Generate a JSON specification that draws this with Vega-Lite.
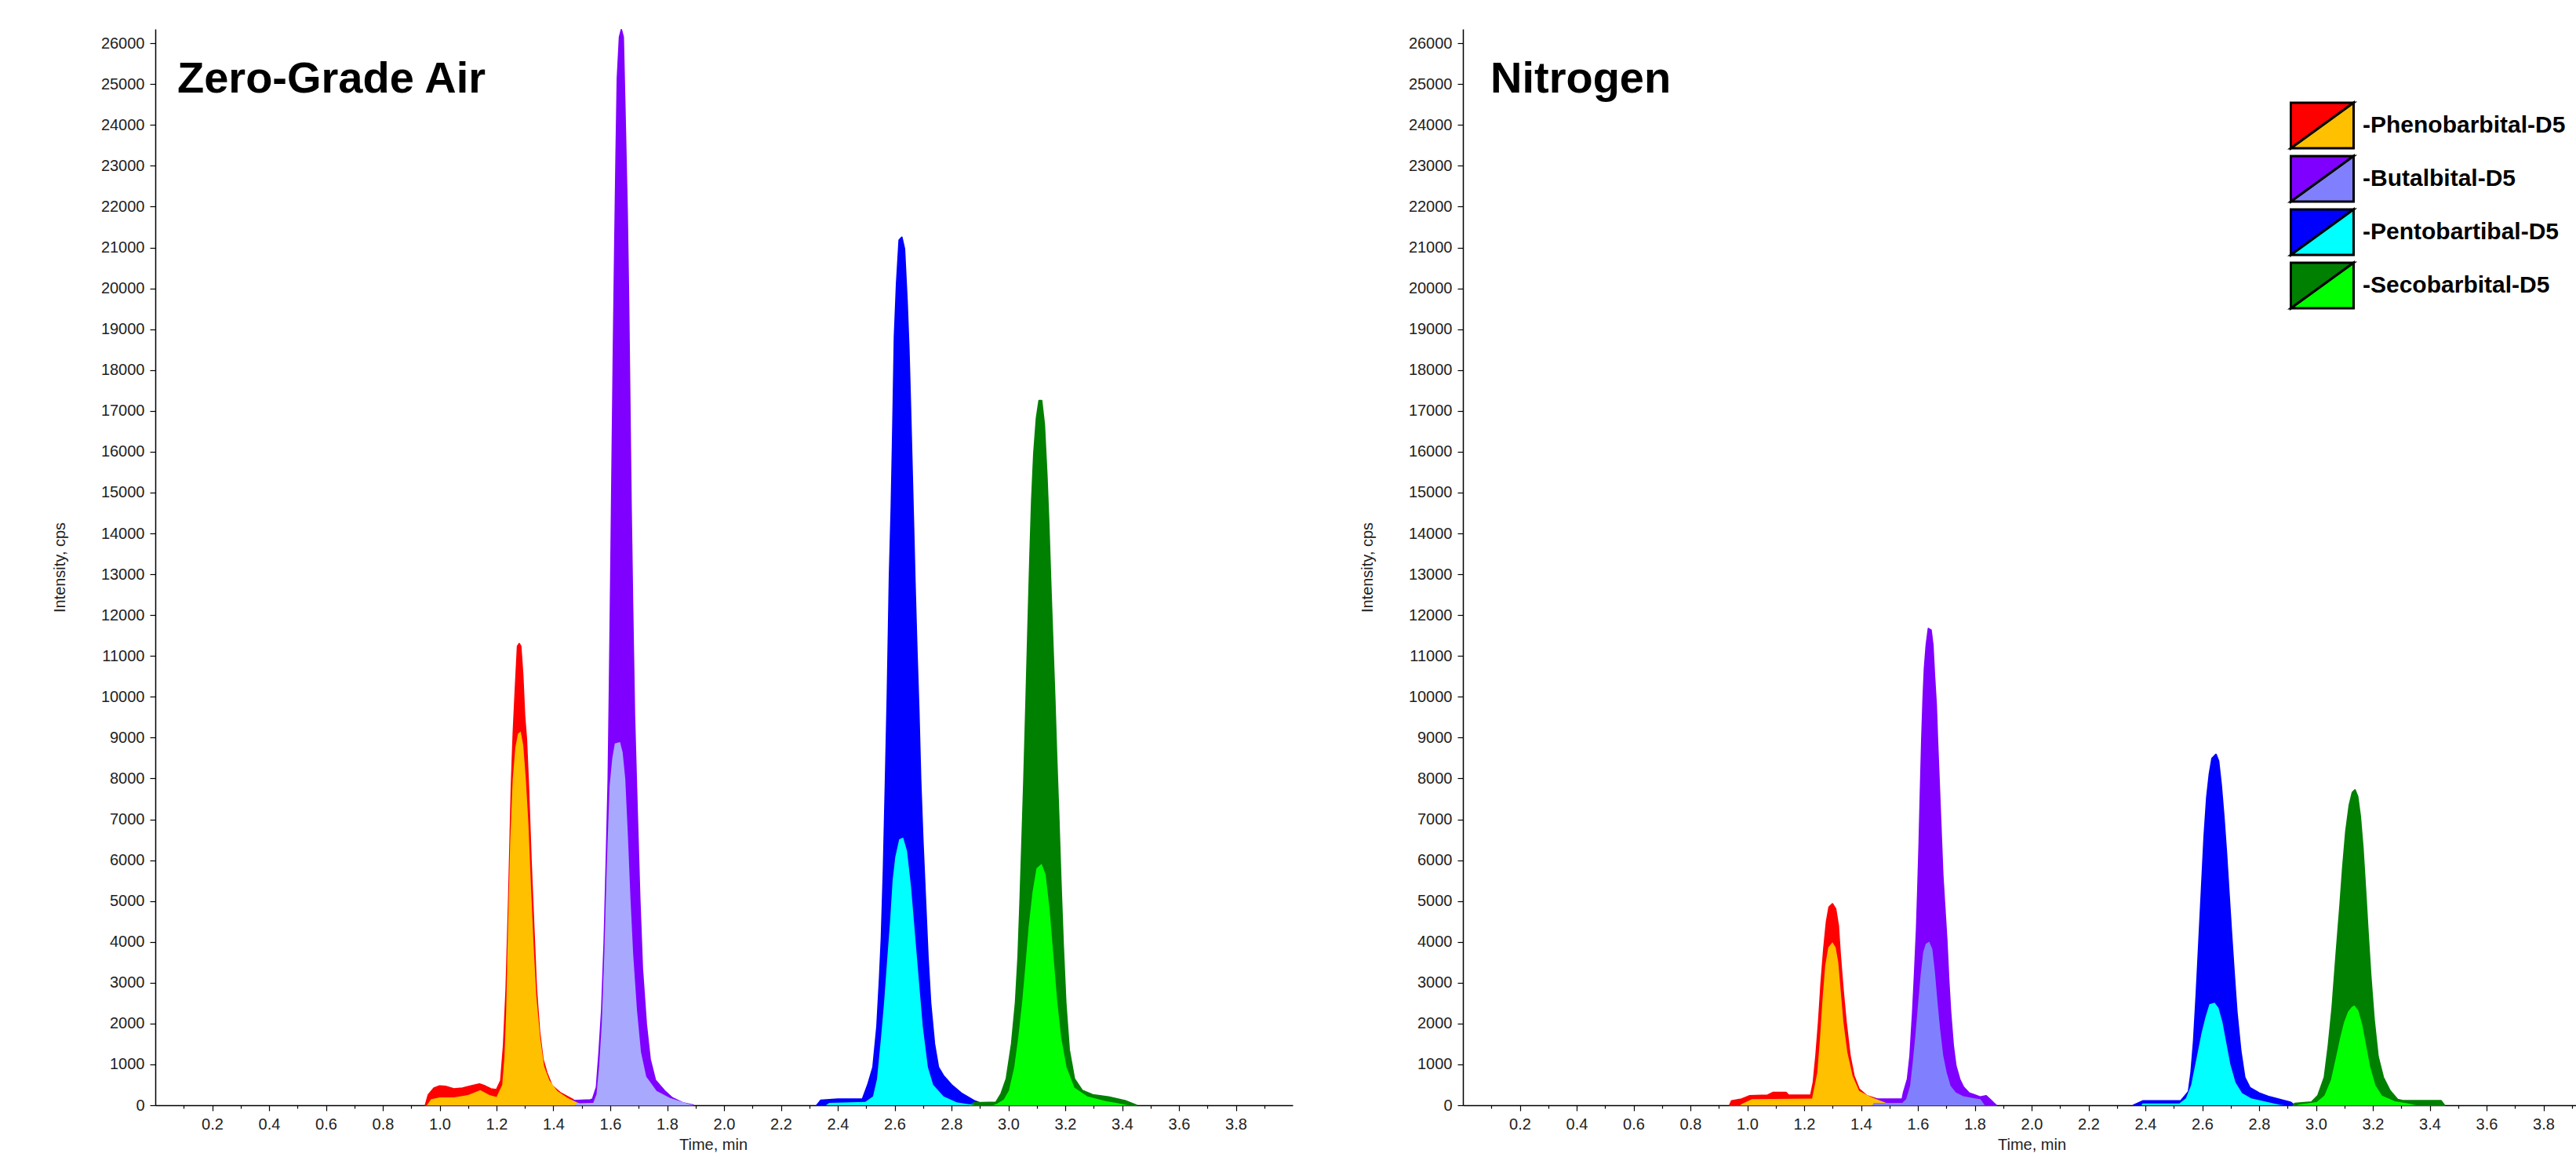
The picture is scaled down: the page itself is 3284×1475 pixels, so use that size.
{
  "$schema": "https://vega.github.io/schema/vega-lite/v6.json",
  "background": "white",
  "padding": {"left": 66, "top": 37, "right": 0, "bottom": 0},
  "config": {
    "view": {"stroke": null},
    "axis": {
      "grid": false,
      "domainColor": "black",
      "domainWidth": 1.5,
      "tickColor": "black",
      "tickWidth": 1.2,
      "labelFont": "Liberation Sans",
      "labelFontSize": 20,
      "labelColor": "#222222",
      "labelPadding": 7,
      "labelOverlap": false,
      "titleFont": "Liberation Sans",
      "titleFontSize": 20,
      "titleFontWeight": "normal",
      "titleColor": "#222222"
    },
    "title": {"font": "Liberation Sans", "fontSize": 56, "fontWeight": "bold", "color": "black"}
  },
  "datasets": {
    "airQuant": [
      {"s":"Phenobarbital-D5","t":0.95,"v":0},{"s":"Phenobarbital-D5","t":0.96,"v":250},{"s":"Phenobarbital-D5","t":0.98,"v":420},{"s":"Phenobarbital-D5","t":1.0,"v":470},{"s":"Phenobarbital-D5","t":1.02,"v":460},{"s":"Phenobarbital-D5","t":1.05,"v":400},{"s":"Phenobarbital-D5","t":1.08,"v":420},{"s":"Phenobarbital-D5","t":1.11,"v":470},{"s":"Phenobarbital-D5","t":1.14,"v":520},{"s":"Phenobarbital-D5","t":1.16,"v":470},{"s":"Phenobarbital-D5","t":1.18,"v":400},{"s":"Phenobarbital-D5","t":1.2,"v":380},{"s":"Phenobarbital-D5","t":1.215,"v":600},{"s":"Phenobarbital-D5","t":1.225,"v":1470},{"s":"Phenobarbital-D5","t":1.234,"v":2840},{"s":"Phenobarbital-D5","t":1.243,"v":5070},{"s":"Phenobarbital-D5","t":1.2525,"v":7810},{"s":"Phenobarbital-D5","t":1.259,"v":9100},{"s":"Phenobarbital-D5","t":1.266,"v":10130},{"s":"Phenobarbital-D5","t":1.274,"v":11240},{"s":"Phenobarbital-D5","t":1.28,"v":11300},{"s":"Phenobarbital-D5","t":1.285,"v":11240},{"s":"Phenobarbital-D5","t":1.292,"v":10540},{"s":"Phenobarbital-D5","t":1.2985,"v":9530},{"s":"Phenobarbital-D5","t":1.305,"v":8960},{"s":"Phenobarbital-D5","t":1.312,"v":7810},{"s":"Phenobarbital-D5","t":1.3215,"v":5930},{"s":"Phenobarbital-D5","t":1.3307,"v":4380},{"s":"Phenobarbital-D5","t":1.34,"v":2840},{"s":"Phenobarbital-D5","t":1.351,"v":1810},{"s":"Phenobarbital-D5","t":1.363,"v":1130},{"s":"Phenobarbital-D5","t":1.377,"v":790},{"s":"Phenobarbital-D5","t":1.395,"v":480},{"s":"Phenobarbital-D5","t":1.423,"v":310},{"s":"Phenobarbital-D5","t":1.469,"v":135},{"s":"Phenobarbital-D5","t":1.496,"v":0},
      {"s":"Butalbital-D5","t":1.46,"v":0},{"s":"Butalbital-D5","t":1.465,"v":110},{"s":"Butalbital-D5","t":1.5,"v":120},{"s":"Butalbital-D5","t":1.53,"v":130},{"s":"Butalbital-D5","t":1.5378,"v":150},{"s":"Butalbital-D5","t":1.5516,"v":440},{"s":"Butalbital-D5","t":1.5608,"v":1300},{"s":"Butalbital-D5","t":1.57,"v":2325},{"s":"Butalbital-D5","t":1.579,"v":4040},{"s":"Butalbital-D5","t":1.5866,"v":6100},{"s":"Butalbital-D5","t":1.593,"v":7985},{"s":"Butalbital-D5","t":1.5976,"v":10380},{"s":"Butalbital-D5","t":1.602,"v":12950},{"s":"Butalbital-D5","t":1.6068,"v":15870},{"s":"Butalbital-D5","t":1.6114,"v":18610},{"s":"Butalbital-D5","t":1.616,"v":21010},{"s":"Butalbital-D5","t":1.6206,"v":23240},{"s":"Butalbital-D5","t":1.625,"v":25125},{"s":"Butalbital-D5","t":1.6326,"v":26155},{"s":"Butalbital-D5","t":1.639,"v":26330},{"s":"Butalbital-D5","t":1.6455,"v":26155},{"s":"Butalbital-D5","t":1.6528,"v":23930},{"s":"Butalbital-D5","t":1.6593,"v":21870},{"s":"Butalbital-D5","t":1.664,"v":19810},{"s":"Butalbital-D5","t":1.6685,"v":17240},{"s":"Butalbital-D5","t":1.673,"v":14670},{"s":"Butalbital-D5","t":1.6786,"v":12100},{"s":"Butalbital-D5","t":1.685,"v":9525},{"s":"Butalbital-D5","t":1.694,"v":7300},{"s":"Butalbital-D5","t":1.7035,"v":5070},{"s":"Butalbital-D5","t":1.7126,"v":3360},{"s":"Butalbital-D5","t":1.7265,"v":1985},{"s":"Butalbital-D5","t":1.74,"v":1130},{"s":"Butalbital-D5","t":1.7587,"v":610},{"s":"Butalbital-D5","t":1.791,"v":350},{"s":"Butalbital-D5","t":1.8185,"v":180},{"s":"Butalbital-D5","t":1.855,"v":60},{"s":"Butalbital-D5","t":1.892,"v":0},
      {"s":"Pentobartibal-D5","t":2.3264,"v":0},{"s":"Pentobartibal-D5","t":2.34,"v":120},{"s":"Pentobartibal-D5","t":2.4,"v":150},{"s":"Pentobartibal-D5","t":2.487,"v":150},{"s":"Pentobartibal-D5","t":2.5057,"v":500},{"s":"Pentobartibal-D5","t":2.524,"v":930},{"s":"Pentobartibal-D5","t":2.538,"v":1930},{"s":"Pentobartibal-D5","t":2.547,"v":3080},{"s":"Pentobartibal-D5","t":2.5536,"v":4080},{"s":"Pentobartibal-D5","t":2.561,"v":5800},{"s":"Pentobartibal-D5","t":2.568,"v":7940},{"s":"Pentobartibal-D5","t":2.5747,"v":10090},{"s":"Pentobartibal-D5","t":2.582,"v":12950},{"s":"Pentobartibal-D5","t":2.5885,"v":14670},{"s":"Pentobartibal-D5","t":2.593,"v":16240},{"s":"Pentobartibal-D5","t":2.5995,"v":18820},{"s":"Pentobartibal-D5","t":2.607,"v":20110},{"s":"Pentobartibal-D5","t":2.616,"v":21180},{"s":"Pentobartibal-D5","t":2.6253,"v":21250},{"s":"Pentobartibal-D5","t":2.6345,"v":20970},{"s":"Pentobartibal-D5","t":2.6437,"v":19680},{"s":"Pentobartibal-D5","t":2.65,"v":18530},{"s":"Pentobartibal-D5","t":2.6556,"v":17100},{"s":"Pentobartibal-D5","t":2.662,"v":15380},{"s":"Pentobartibal-D5","t":2.6667,"v":14100},{"s":"Pentobartibal-D5","t":2.6713,"v":12810},{"s":"Pentobartibal-D5","t":2.6777,"v":11240},{"s":"Pentobartibal-D5","t":2.685,"v":9660},{"s":"Pentobartibal-D5","t":2.6915,"v":7940},{"s":"Pentobartibal-D5","t":2.699,"v":6510},{"s":"Pentobartibal-D5","t":2.708,"v":5080},{"s":"Pentobartibal-D5","t":2.717,"v":3650},{"s":"Pentobartibal-D5","t":2.7264,"v":2505},{"s":"Pentobartibal-D5","t":2.74,"v":1500},{"s":"Pentobartibal-D5","t":2.754,"v":930},{"s":"Pentobartibal-D5","t":2.7724,"v":715},{"s":"Pentobartibal-D5","t":2.8,"v":500},{"s":"Pentobartibal-D5","t":2.8368,"v":285},{"s":"Pentobartibal-D5","t":2.8828,"v":100},{"s":"Pentobartibal-D5","t":2.9195,"v":0},
      {"s":"Secobarbital-D5","t":2.8644,"v":0},{"s":"Secobarbital-D5","t":2.88,"v":60},{"s":"Secobarbital-D5","t":2.9563,"v":70},{"s":"Secobarbital-D5","t":2.9747,"v":285},{"s":"Secobarbital-D5","t":2.993,"v":645},{"s":"Secobarbital-D5","t":3.0115,"v":1500},{"s":"Secobarbital-D5","t":3.0253,"v":2505},{"s":"Secobarbital-D5","t":3.0345,"v":3650},{"s":"Secobarbital-D5","t":3.0418,"v":5080},{"s":"Secobarbital-D5","t":3.0483,"v":6510},{"s":"Secobarbital-D5","t":3.0547,"v":7940},{"s":"Secobarbital-D5","t":3.062,"v":9800},{"s":"Secobarbital-D5","t":3.0685,"v":11520},{"s":"Secobarbital-D5","t":3.0759,"v":13380},{"s":"Secobarbital-D5","t":3.0823,"v":14810},{"s":"Secobarbital-D5","t":3.0897,"v":15960},{"s":"Secobarbital-D5","t":3.0989,"v":16820},{"s":"Secobarbital-D5","t":3.108,"v":17250},{"s":"Secobarbital-D5","t":3.117,"v":17250},{"s":"Secobarbital-D5","t":3.1264,"v":16670},{"s":"Secobarbital-D5","t":3.1356,"v":15380},{"s":"Secobarbital-D5","t":3.142,"v":14240},{"s":"Secobarbital-D5","t":3.1494,"v":12660},{"s":"Secobarbital-D5","t":3.1559,"v":11380},{"s":"Secobarbital-D5","t":3.1632,"v":9950},{"s":"Secobarbital-D5","t":3.1697,"v":8520},{"s":"Secobarbital-D5","t":3.177,"v":7085},{"s":"Secobarbital-D5","t":3.1844,"v":5510},{"s":"Secobarbital-D5","t":3.1926,"v":3940},{"s":"Secobarbital-D5","t":3.2018,"v":2505},{"s":"Secobarbital-D5","t":3.2138,"v":1360},{"s":"Secobarbital-D5","t":3.2322,"v":645},{"s":"Secobarbital-D5","t":3.26,"v":360},{"s":"Secobarbital-D5","t":3.2966,"v":255},{"s":"Secobarbital-D5","t":3.352,"v":200},{"s":"Secobarbital-D5","t":3.41,"v":110},{"s":"Secobarbital-D5","t":3.45,"v":0}
    ],
    "airQual": [
      {"s":"Phenobarbital-D5 qualifier","t":0.955,"v":0},{"s":"Phenobarbital-D5 qualifier","t":0.97,"v":150},{"s":"Phenobarbital-D5 qualifier","t":0.985,"v":170},{"s":"Phenobarbital-D5 qualifier","t":1.0,"v":190},{"s":"Phenobarbital-D5 qualifier","t":1.05,"v":190},{"s":"Phenobarbital-D5 qualifier","t":1.1,"v":250},{"s":"Phenobarbital-D5 qualifier","t":1.143,"v":370},{"s":"Phenobarbital-D5 qualifier","t":1.175,"v":250},{"s":"Phenobarbital-D5 qualifier","t":1.2,"v":200},{"s":"Phenobarbital-D5 qualifier","t":1.22,"v":500},{"s":"Phenobarbital-D5 qualifier","t":1.228,"v":1200},{"s":"Phenobarbital-D5 qualifier","t":1.234,"v":2325},{"s":"Phenobarbital-D5 qualifier","t":1.2387,"v":3870},{"s":"Phenobarbital-D5 qualifier","t":1.248,"v":6440},{"s":"Phenobarbital-D5 qualifier","t":1.257,"v":7990},{"s":"Phenobarbital-D5 qualifier","t":1.266,"v":8755},{"s":"Phenobarbital-D5 qualifier","t":1.2755,"v":9100},{"s":"Phenobarbital-D5 qualifier","t":1.285,"v":9150},{"s":"Phenobarbital-D5 qualifier","t":1.294,"v":8810},{"s":"Phenobarbital-D5 qualifier","t":1.303,"v":7990},{"s":"Phenobarbital-D5 qualifier","t":1.312,"v":6900},{"s":"Phenobarbital-D5 qualifier","t":1.3215,"v":5300},{"s":"Phenobarbital-D5 qualifier","t":1.3307,"v":3870},{"s":"Phenobarbital-D5 qualifier","t":1.34,"v":2670},{"s":"Phenobarbital-D5 qualifier","t":1.3537,"v":1640},{"s":"Phenobarbital-D5 qualifier","t":1.3675,"v":950},{"s":"Phenobarbital-D5 qualifier","t":1.386,"v":610},{"s":"Phenobarbital-D5 qualifier","t":1.4135,"v":350},{"s":"Phenobarbital-D5 qualifier","t":1.45,"v":180},{"s":"Phenobarbital-D5 qualifier","t":1.487,"v":60},{"s":"Phenobarbital-D5 qualifier","t":1.5,"v":0},
      {"s":"Butalbital-D5 qualifier","t":1.475,"v":0},{"s":"Butalbital-D5 qualifier","t":1.48,"v":50},{"s":"Butalbital-D5 qualifier","t":1.54,"v":60},{"s":"Butalbital-D5 qualifier","t":1.5516,"v":270},{"s":"Butalbital-D5 qualifier","t":1.5608,"v":950},{"s":"Butalbital-D5 qualifier","t":1.57,"v":1985},{"s":"Butalbital-D5 qualifier","t":1.579,"v":3700},{"s":"Butalbital-D5 qualifier","t":1.588,"v":5930},{"s":"Butalbital-D5 qualifier","t":1.5976,"v":7815},{"s":"Butalbital-D5 qualifier","t":1.607,"v":8500},{"s":"Butalbital-D5 qualifier","t":1.616,"v":8860},{"s":"Butalbital-D5 qualifier","t":1.6344,"v":8890},{"s":"Butalbital-D5 qualifier","t":1.6436,"v":8640},{"s":"Butalbital-D5 qualifier","t":1.6528,"v":7985},{"s":"Butalbital-D5 qualifier","t":1.662,"v":6600},{"s":"Butalbital-D5 qualifier","t":1.671,"v":5070},{"s":"Butalbital-D5 qualifier","t":1.6805,"v":3700},{"s":"Butalbital-D5 qualifier","t":1.694,"v":2325},{"s":"Butalbital-D5 qualifier","t":1.708,"v":1300},{"s":"Butalbital-D5 qualifier","t":1.7265,"v":700},{"s":"Butalbital-D5 qualifier","t":1.763,"v":350},{"s":"Butalbital-D5 qualifier","t":1.81,"v":180},{"s":"Butalbital-D5 qualifier","t":1.8645,"v":60},{"s":"Butalbital-D5 qualifier","t":1.892,"v":0},
      {"s":"Pentobartibal-D5 qualifier","t":2.3586,"v":0},{"s":"Pentobartibal-D5 qualifier","t":2.37,"v":60},{"s":"Pentobartibal-D5 qualifier","t":2.4966,"v":80},{"s":"Pentobartibal-D5 qualifier","t":2.524,"v":215},{"s":"Pentobartibal-D5 qualifier","t":2.538,"v":645},{"s":"Pentobartibal-D5 qualifier","t":2.552,"v":1645},{"s":"Pentobartibal-D5 qualifier","t":2.5628,"v":2505},{"s":"Pentobartibal-D5 qualifier","t":2.5747,"v":3650},{"s":"Pentobartibal-D5 qualifier","t":2.584,"v":4510},{"s":"Pentobartibal-D5 qualifier","t":2.593,"v":5510},{"s":"Pentobartibal-D5 qualifier","t":2.6023,"v":6080},{"s":"Pentobartibal-D5 qualifier","t":2.616,"v":6510},{"s":"Pentobartibal-D5 qualifier","t":2.63,"v":6555},{"s":"Pentobartibal-D5 qualifier","t":2.6437,"v":6225},{"s":"Pentobartibal-D5 qualifier","t":2.6575,"v":5365},{"s":"Pentobartibal-D5 qualifier","t":2.6713,"v":4220},{"s":"Pentobartibal-D5 qualifier","t":2.685,"v":3080},{"s":"Pentobartibal-D5 qualifier","t":2.699,"v":1930},{"s":"Pentobartibal-D5 qualifier","t":2.717,"v":930},{"s":"Pentobartibal-D5 qualifier","t":2.7356,"v":500},{"s":"Pentobartibal-D5 qualifier","t":2.7724,"v":215},{"s":"Pentobartibal-D5 qualifier","t":2.818,"v":70},{"s":"Pentobartibal-D5 qualifier","t":2.8828,"v":0},
      {"s":"Secobarbital-D5 qualifier","t":2.947,"v":0},{"s":"Secobarbital-D5 qualifier","t":2.96,"v":40},{"s":"Secobarbital-D5 qualifier","t":2.984,"v":140},{"s":"Secobarbital-D5 qualifier","t":3.002,"v":360},{"s":"Secobarbital-D5 qualifier","t":3.0207,"v":930},{"s":"Secobarbital-D5 qualifier","t":3.0345,"v":1645},{"s":"Secobarbital-D5 qualifier","t":3.0483,"v":2505},{"s":"Secobarbital-D5 qualifier","t":3.0593,"v":3365},{"s":"Secobarbital-D5 qualifier","t":3.0713,"v":4370},{"s":"Secobarbital-D5 qualifier","t":3.085,"v":5220},{"s":"Secobarbital-D5 qualifier","t":3.0989,"v":5800},{"s":"Secobarbital-D5 qualifier","t":3.117,"v":5910},{"s":"Secobarbital-D5 qualifier","t":3.131,"v":5650},{"s":"Secobarbital-D5 qualifier","t":3.145,"v":4800},{"s":"Secobarbital-D5 qualifier","t":3.1586,"v":3650},{"s":"Secobarbital-D5 qualifier","t":3.1724,"v":2505},{"s":"Secobarbital-D5 qualifier","t":3.186,"v":1645},{"s":"Secobarbital-D5 qualifier","t":3.2046,"v":930},{"s":"Secobarbital-D5 qualifier","t":3.2322,"v":430},{"s":"Secobarbital-D5 qualifier","t":3.278,"v":215},{"s":"Secobarbital-D5 qualifier","t":3.3425,"v":100},{"s":"Secobarbital-D5 qualifier","t":3.379,"v":60},{"s":"Secobarbital-D5 qualifier","t":3.42,"v":0}
    ],
    "n2Quant": [
      {"s":"Phenobarbital-D5","t":0.9384,"v":0},{"s":"Phenobarbital-D5","t":0.945,"v":106},{"s":"Phenobarbital-D5","t":0.98,"v":148},{"s":"Phenobarbital-D5","t":1.0074,"v":229},{"s":"Phenobarbital-D5","t":1.0717,"v":245},{"s":"Phenobarbital-D5","t":1.09,"v":311},{"s":"Phenobarbital-D5","t":1.136,"v":311},{"s":"Phenobarbital-D5","t":1.145,"v":245},{"s":"Phenobarbital-D5","t":1.2233,"v":245},{"s":"Phenobarbital-D5","t":1.2325,"v":556},{"s":"Phenobarbital-D5","t":1.2417,"v":1210},{"s":"Phenobarbital-D5","t":1.251,"v":2030},{"s":"Phenobarbital-D5","t":1.26,"v":3010},{"s":"Phenobarbital-D5","t":1.2693,"v":3825},{"s":"Phenobarbital-D5","t":1.2785,"v":4480},{"s":"Phenobarbital-D5","t":1.2877,"v":4850},{"s":"Phenobarbital-D5","t":1.2996,"v":4930},{"s":"Phenobarbital-D5","t":1.3107,"v":4805},{"s":"Phenobarbital-D5","t":1.32,"v":4400},{"s":"Phenobarbital-D5","t":1.327,"v":3660},{"s":"Phenobarbital-D5","t":1.3364,"v":2845},{"s":"Phenobarbital-D5","t":1.3474,"v":2030},{"s":"Phenobarbital-D5","t":1.3612,"v":1210},{"s":"Phenobarbital-D5","t":1.375,"v":720},{"s":"Phenobarbital-D5","t":1.3934,"v":392},{"s":"Phenobarbital-D5","t":1.421,"v":229},{"s":"Phenobarbital-D5","t":1.4577,"v":148},{"s":"Phenobarbital-D5","t":1.4945,"v":25},{"s":"Phenobarbital-D5","t":1.5037,"v":0},
      {"s":"Butalbital-D5","t":1.435,"v":0},{"s":"Butalbital-D5","t":1.44,"v":148},{"s":"Butalbital-D5","t":1.545,"v":150},{"s":"Butalbital-D5","t":1.5497,"v":311},{"s":"Butalbital-D5","t":1.5635,"v":637},{"s":"Butalbital-D5","t":1.5726,"v":1210},{"s":"Butalbital-D5","t":1.5818,"v":2270},{"s":"Butalbital-D5","t":1.5882,"v":3170},{"s":"Butalbital-D5","t":1.5956,"v":4315},{"s":"Butalbital-D5","t":1.6,"v":5295},{"s":"Butalbital-D5","t":1.6048,"v":6440},{"s":"Butalbital-D5","t":1.6094,"v":7750},{"s":"Butalbital-D5","t":1.614,"v":8975},{"s":"Butalbital-D5","t":1.6186,"v":9955},{"s":"Butalbital-D5","t":1.6232,"v":10690},{"s":"Butalbital-D5","t":1.6296,"v":11265},{"s":"Butalbital-D5","t":1.637,"v":11670},{"s":"Butalbital-D5","t":1.6462,"v":11630},{"s":"Butalbital-D5","t":1.6526,"v":11265},{"s":"Butalbital-D5","t":1.6581,"v":10530},{"s":"Butalbital-D5","t":1.6645,"v":9790},{"s":"Butalbital-D5","t":1.669,"v":8895},{"s":"Butalbital-D5","t":1.6737,"v":8075},{"s":"Butalbital-D5","t":1.6783,"v":7260},{"s":"Butalbital-D5","t":1.6829,"v":6440},{"s":"Butalbital-D5","t":1.6875,"v":5625},{"s":"Butalbital-D5","t":1.694,"v":4890},{"s":"Butalbital-D5","t":1.7013,"v":4070},{"s":"Butalbital-D5","t":1.7087,"v":3010},{"s":"Butalbital-D5","t":1.715,"v":2270},{"s":"Butalbital-D5","t":1.7243,"v":1455},{"s":"Butalbital-D5","t":1.7335,"v":964},{"s":"Butalbital-D5","t":1.747,"v":637},{"s":"Butalbital-D5","t":1.76,"v":450},{"s":"Butalbital-D5","t":1.78,"v":300},{"s":"Butalbital-D5","t":1.8,"v":250},{"s":"Butalbital-D5","t":1.82,"v":200},{"s":"Butalbital-D5","t":1.84,"v":230},{"s":"Butalbital-D5","t":1.86,"v":100},{"s":"Butalbital-D5","t":1.875,"v":0},
      {"s":"Pentobartibal-D5","t":2.3586,"v":0},{"s":"Pentobartibal-D5","t":2.3908,"v":105},{"s":"Pentobartibal-D5","t":2.524,"v":105},{"s":"Pentobartibal-D5","t":2.5517,"v":331},{"s":"Pentobartibal-D5","t":2.5609,"v":811},{"s":"Pentobartibal-D5","t":2.57,"v":1580},{"s":"Pentobartibal-D5","t":2.5793,"v":2730},{"s":"Pentobartibal-D5","t":2.5885,"v":4010},{"s":"Pentobartibal-D5","t":2.5977,"v":5290},{"s":"Pentobartibal-D5","t":2.6068,"v":6570},{"s":"Pentobartibal-D5","t":2.616,"v":7530},{"s":"Pentobartibal-D5","t":2.6252,"v":8110},{"s":"Pentobartibal-D5","t":2.6344,"v":8490},{"s":"Pentobartibal-D5","t":2.6482,"v":8590},{"s":"Pentobartibal-D5","t":2.6574,"v":8430},{"s":"Pentobartibal-D5","t":2.6666,"v":7850},{"s":"Pentobartibal-D5","t":2.6758,"v":7080},{"s":"Pentobartibal-D5","t":2.685,"v":6190},{"s":"Pentobartibal-D5","t":2.6942,"v":5160},{"s":"Pentobartibal-D5","t":2.7034,"v":4140},{"s":"Pentobartibal-D5","t":2.7126,"v":3180},{"s":"Pentobartibal-D5","t":2.7217,"v":2285},{"s":"Pentobartibal-D5","t":2.7355,"v":1325},{"s":"Pentobartibal-D5","t":2.7493,"v":685},{"s":"Pentobartibal-D5","t":2.7677,"v":430},{"s":"Pentobartibal-D5","t":2.7999,"v":300},{"s":"Pentobartibal-D5","t":2.8367,"v":205},{"s":"Pentobartibal-D5","t":2.8734,"v":140},{"s":"Pentobartibal-D5","t":2.9102,"v":75},{"s":"Pentobartibal-D5","t":2.924,"v":0},
      {"s":"Secobarbital-D5","t":2.92,"v":0},{"s":"Secobarbital-D5","t":2.926,"v":45},{"s":"Secobarbital-D5","t":2.9837,"v":75},{"s":"Secobarbital-D5","t":3.0067,"v":235},{"s":"Secobarbital-D5","t":3.0297,"v":685},{"s":"Secobarbital-D5","t":3.0435,"v":1450},{"s":"Secobarbital-D5","t":3.0573,"v":2410},{"s":"Secobarbital-D5","t":3.0711,"v":3690},{"s":"Secobarbital-D5","t":3.0849,"v":4910},{"s":"Secobarbital-D5","t":3.0941,"v":5800},{"s":"Secobarbital-D5","t":3.1051,"v":6700},{"s":"Secobarbital-D5","t":3.1171,"v":7340},{"s":"Secobarbital-D5","t":3.1281,"v":7660},{"s":"Secobarbital-D5","t":3.1373,"v":7720},{"s":"Secobarbital-D5","t":3.1465,"v":7560},{"s":"Secobarbital-D5","t":3.1557,"v":7080},{"s":"Secobarbital-D5","t":3.1649,"v":6310},{"s":"Secobarbital-D5","t":3.174,"v":5290},{"s":"Secobarbital-D5","t":3.1832,"v":4200},{"s":"Secobarbital-D5","t":3.1924,"v":3180},{"s":"Secobarbital-D5","t":3.2044,"v":2090},{"s":"Secobarbital-D5","t":3.2182,"v":1195},{"s":"Secobarbital-D5","t":3.2366,"v":685},{"s":"Secobarbital-D5","t":3.2595,"v":365},{"s":"Secobarbital-D5","t":3.2871,"v":140},{"s":"Secobarbital-D5","t":3.3055,"v":110},{"s":"Secobarbital-D5","t":3.44,"v":110},{"s":"Secobarbital-D5","t":3.452,"v":0}
    ],
    "n2Qual": [
      {"s":"Phenobarbital-D5 qualifier","t":0.975,"v":0},{"s":"Phenobarbital-D5 qualifier","t":0.98,"v":30},{"s":"Phenobarbital-D5 qualifier","t":1.0165,"v":148},{"s":"Phenobarbital-D5 qualifier","t":1.228,"v":165},{"s":"Phenobarbital-D5 qualifier","t":1.2463,"v":800},{"s":"Phenobarbital-D5 qualifier","t":1.2555,"v":1620},{"s":"Phenobarbital-D5 qualifier","t":1.2647,"v":2600},{"s":"Phenobarbital-D5 qualifier","t":1.274,"v":3420},{"s":"Phenobarbital-D5 qualifier","t":1.285,"v":3867},{"s":"Phenobarbital-D5 qualifier","t":1.2996,"v":3990},{"s":"Phenobarbital-D5 qualifier","t":1.3107,"v":3867},{"s":"Phenobarbital-D5 qualifier","t":1.32,"v":3500},{"s":"Phenobarbital-D5 qualifier","t":1.329,"v":2765},{"s":"Phenobarbital-D5 qualifier","t":1.3382,"v":2030},{"s":"Phenobarbital-D5 qualifier","t":1.352,"v":1290},{"s":"Phenobarbital-D5 qualifier","t":1.3704,"v":720},{"s":"Phenobarbital-D5 qualifier","t":1.3934,"v":350},{"s":"Phenobarbital-D5 qualifier","t":1.4393,"v":188},{"s":"Phenobarbital-D5 qualifier","t":1.4853,"v":65},{"s":"Phenobarbital-D5 qualifier","t":1.499,"v":0},
      {"s":"Butalbital-D5 qualifier","t":1.44,"v":0},{"s":"Butalbital-D5 qualifier","t":1.445,"v":60},{"s":"Butalbital-D5 qualifier","t":1.545,"v":60},{"s":"Butalbital-D5 qualifier","t":1.5588,"v":148},{"s":"Butalbital-D5 qualifier","t":1.5726,"v":474},{"s":"Butalbital-D5 qualifier","t":1.5818,"v":1045},{"s":"Butalbital-D5 qualifier","t":1.591,"v":1700},{"s":"Butalbital-D5 qualifier","t":1.6,"v":2435},{"s":"Butalbital-D5 qualifier","t":1.6094,"v":3170},{"s":"Butalbital-D5 qualifier","t":1.6186,"v":3745},{"s":"Butalbital-D5 qualifier","t":1.6278,"v":3950},{"s":"Butalbital-D5 qualifier","t":1.6397,"v":4005},{"s":"Butalbital-D5 qualifier","t":1.6507,"v":3825},{"s":"Butalbital-D5 qualifier","t":1.66,"v":3255},{"s":"Butalbital-D5 qualifier","t":1.669,"v":2520},{"s":"Butalbital-D5 qualifier","t":1.6783,"v":1860},{"s":"Butalbital-D5 qualifier","t":1.6893,"v":1210},{"s":"Butalbital-D5 qualifier","t":1.7013,"v":800},{"s":"Butalbital-D5 qualifier","t":1.715,"v":474},{"s":"Butalbital-D5 qualifier","t":1.7335,"v":311},{"s":"Butalbital-D5 qualifier","t":1.76,"v":220},{"s":"Butalbital-D5 qualifier","t":1.8,"v":170},{"s":"Butalbital-D5 qualifier","t":1.82,"v":150},{"s":"Butalbital-D5 qualifier","t":1.835,"v":0},
      {"s":"Pentobartibal-D5 qualifier","t":2.3862,"v":0},{"s":"Pentobartibal-D5 qualifier","t":2.39,"v":45},{"s":"Pentobartibal-D5 qualifier","t":2.5195,"v":45},{"s":"Pentobartibal-D5 qualifier","t":2.5425,"v":170},{"s":"Pentobartibal-D5 qualifier","t":2.5609,"v":490},{"s":"Pentobartibal-D5 qualifier","t":2.5793,"v":1130},{"s":"Pentobartibal-D5 qualifier","t":2.5977,"v":1770},{"s":"Pentobartibal-D5 qualifier","t":2.6114,"v":2155},{"s":"Pentobartibal-D5 qualifier","t":2.6252,"v":2475},{"s":"Pentobartibal-D5 qualifier","t":2.6436,"v":2510},{"s":"Pentobartibal-D5 qualifier","t":2.6574,"v":2380},{"s":"Pentobartibal-D5 qualifier","t":2.6712,"v":2030},{"s":"Pentobartibal-D5 qualifier","t":2.685,"v":1515},{"s":"Pentobartibal-D5 qualifier","t":2.6988,"v":1005},{"s":"Pentobartibal-D5 qualifier","t":2.7171,"v":555},{"s":"Pentobartibal-D5 qualifier","t":2.7401,"v":300},{"s":"Pentobartibal-D5 qualifier","t":2.7723,"v":170},{"s":"Pentobartibal-D5 qualifier","t":2.8183,"v":95},{"s":"Pentobartibal-D5 qualifier","t":2.8734,"v":10},{"s":"Pentobartibal-D5 qualifier","t":2.89,"v":0},
      {"s":"Secobarbital-D5 qualifier","t":2.935,"v":0},{"s":"Secobarbital-D5 qualifier","t":2.9378,"v":15},{"s":"Secobarbital-D5 qualifier","t":3.0021,"v":75},{"s":"Secobarbital-D5 qualifier","t":3.0297,"v":235},{"s":"Secobarbital-D5 qualifier","t":3.0527,"v":620},{"s":"Secobarbital-D5 qualifier","t":3.0711,"v":1195},{"s":"Secobarbital-D5 qualifier","t":3.0849,"v":1645},{"s":"Secobarbital-D5 qualifier","t":3.0987,"v":2030},{"s":"Secobarbital-D5 qualifier","t":3.1125,"v":2285},{"s":"Secobarbital-D5 qualifier","t":3.1263,"v":2410},{"s":"Secobarbital-D5 qualifier","t":3.1354,"v":2445},{"s":"Secobarbital-D5 qualifier","t":3.1492,"v":2315},{"s":"Secobarbital-D5 qualifier","t":3.163,"v":1965},{"s":"Secobarbital-D5 qualifier","t":3.1768,"v":1450},{"s":"Secobarbital-D5 qualifier","t":3.1906,"v":940},{"s":"Secobarbital-D5 qualifier","t":3.209,"v":490},{"s":"Secobarbital-D5 qualifier","t":3.232,"v":235},{"s":"Secobarbital-D5 qualifier","t":3.278,"v":95},{"s":"Secobarbital-D5 qualifier","t":3.324,"v":45},{"s":"Secobarbital-D5 qualifier","t":3.3515,"v":0}
    ]
  },
  "bounds": "flush",
  "spacing": 217,
  "resolve": {
    "scale": {"color": "independent", "fill": "independent"},
    "legend": {"color": "independent", "fill": "independent"}
  },
  "hconcat": [
    {
      "width": 1450,
      "height": 1372,
      "title": {"text": "Zero-Grade Air", "anchor": "start", "orient": "top", "frame": "group", "offset": -137, "dx": 28, "baseline": "alphabetic"},
      "resolve": {"axis": {"x": "independent"}},
      "layer": [
        {
          "data": {"name": "airQuant"},
          "mark": {"type": "area", "opacity": 1, "fillOpacity": 1, "strokeWidth": 2, "strokeJoin": "round",
            "stroke": {"expr": "datum.s === 'Phenobarbital-D5' ? '#ff0000' : datum.s === 'Butalbital-D5' ? '#8000ff' : datum.s === 'Pentobartibal-D5' ? '#0000ff' : '#008000'"}},
          "encoding": {
            "x": {"field": "t", "type": "quantitative", "scale": {"domain": [0, 4], "nice": false, "zero": false},
              "axis": {"orient": "bottom", "title": "Time, min", "titleX": 711, "titlePadding": 6, "format": ".1f", "tickSize": 7, "labelOverlap": false,
                "values": [0.2,0.4,0.6,0.8,1.0,1.2,1.4,1.6,1.8,2.0,2.2,2.4,2.6,2.8,3.0,3.2,3.4,3.6,3.8]}},
            "y": {"field": "v", "type": "quantitative", "stack": null, "scale": {"domain": [0, 26350], "nice": false},
              "axis": {"title": "Intensity, cps", "titlePadding": 42, "format": "d",
                "values": [0,500,1000,1500,2000,2500,3000,3500,4000,4500,5000,5500,6000,6500,7000,7500,8000,8500,9000,9500,10000,10500,11000,11500,12000,12500,13000,13500,14000,14500,15000,15500,16000,16500,17000,17500,18000,18500,19000,19500,20000,20500,21000,21500,22000,22500,23000,23500,24000,24500,25000,25500,26000],
                "labelExpr": "datum.value % 1000 === 0 ? datum.label : ''",
                "tickSize": {"condition": {"test": "datum.value % 1000 === 0", "value": 7}, "value": 4}}},
            "color": {"field": "s", "type": "nominal",
              "scale": {"domain": ["Phenobarbital-D5", "Butalbital-D5", "Pentobartibal-D5", "Secobarbital-D5"], "range": ["#ff0000", "#8000ff", "#0000ff", "#008000"]},
              "legend": null}
          }
        },
        {
          "data": {"name": "airQual"},
          "mark": {"type": "area", "opacity": 1, "fillOpacity": 1},
          "encoding": {
            "x": {"field": "t", "type": "quantitative",
              "axis": {"orient": "bottom", "title": null, "labels": false, "domain": false, "tickSize": 4,
                "values": [0.1,0.3,0.5,0.7,0.9,1.1,1.3,1.5,1.7,1.9,2.1,2.3,2.5,2.7,2.9,3.1,3.3,3.5,3.7,3.9]}},
            "y": {"field": "v", "type": "quantitative", "stack": null},
            "fill": {"field": "s", "type": "nominal",
              "scale": {"domain": ["Phenobarbital-D5 qualifier", "Butalbital-D5 qualifier", "Pentobartibal-D5 qualifier", "Secobarbital-D5 qualifier"], "range": ["#ffc000", "#a8a8ff", "#00ffff", "#00ff00"]},
              "legend": null}
          }
        }
      ]
    },
    {
      "width": 1421,
      "height": 1372,
      "title": {"text": "Nitrogen", "anchor": "start", "orient": "top", "frame": "group", "offset": -137, "dx": 35, "baseline": "alphabetic"},
      "resolve": {"axis": {"x": "independent"}},
      "layer": [
        {
          "data": {"name": "n2Quant"},
          "mark": {"type": "area", "opacity": 1, "fillOpacity": 1, "strokeWidth": 2, "strokeJoin": "round",
            "stroke": {"expr": "datum.s === 'Phenobarbital-D5' ? '#ff0000' : datum.s === 'Butalbital-D5' ? '#8000ff' : datum.s === 'Pentobartibal-D5' ? '#0000ff' : '#008000'"}},
          "encoding": {
            "x": {"field": "t", "type": "quantitative", "scale": {"domain": [0, 3.92], "nice": false, "zero": false},
              "axis": {"orient": "bottom", "title": "Time, min", "titleX": 725, "titlePadding": 6, "format": ".1f", "tickSize": 7, "labelOverlap": false,
                "values": [0.2,0.4,0.6,0.8,1.0,1.2,1.4,1.6,1.8,2.0,2.2,2.4,2.6,2.8,3.0,3.2,3.4,3.6,3.8]}},
            "y": {"field": "v", "type": "quantitative", "stack": null, "scale": {"domain": [0, 26350], "nice": false},
              "axis": {"title": "Intensity, cps", "titlePadding": 42, "format": "d",
                "values": [0,500,1000,1500,2000,2500,3000,3500,4000,4500,5000,5500,6000,6500,7000,7500,8000,8500,9000,9500,10000,10500,11000,11500,12000,12500,13000,13500,14000,14500,15000,15500,16000,16500,17000,17500,18000,18500,19000,19500,20000,20500,21000,21500,22000,22500,23000,23500,24000,24500,25000,25500,26000],
                "labelExpr": "datum.value % 1000 === 0 ? datum.label : ''",
                "tickSize": {"condition": {"test": "datum.value % 1000 === 0", "value": 7}, "value": 4}}},
            "color": {"field": "s", "type": "nominal",
              "scale": {"domain": ["Phenobarbital-D5", "Butalbital-D5", "Pentobartibal-D5", "Secobarbital-D5"], "range": ["#ff0000", "#8000ff", "#0000ff", "#008000"]},
              "legend": {"orient": "none", "legendX": 1062.5, "legendY": 90, "title": null, "padding": 0,
                "symbolType": "M-1.2698,-0.9206L1.2698,-0.9206L-1.2698,0.9206Z", "symbolSize": 3969, "symbolStrokeColor": "black", "symbolStrokeWidth": 3, "symbolOpacity": 1,
                "labelFont": "Liberation Sans", "labelFontSize": 30, "labelFontWeight": "bold", "labelColor": "black", "labelLimit": 500, "labelOffset": 18.5,
                "labelExpr": "'-' + datum.label", "rowPadding": -6,
                "encode": {"symbols": {"update": {"stroke": {"value": "black"}, "strokeWidth": {"value": 3}}}}}}
          }
        },
        {
          "data": {"name": "n2Qual"},
          "mark": {"type": "area", "opacity": 1, "fillOpacity": 1},
          "encoding": {
            "x": {"field": "t", "type": "quantitative",
              "axis": {"orient": "bottom", "title": null, "labels": false, "domain": false, "tickSize": 4,
                "values": [0.1,0.3,0.5,0.7,0.9,1.1,1.3,1.5,1.7,1.9,2.1,2.3,2.5,2.7,2.9,3.1,3.3,3.5,3.7,3.9]}},
            "y": {"field": "v", "type": "quantitative", "stack": null},
            "fill": {"field": "s", "type": "nominal",
              "scale": {"domain": ["Phenobarbital-D5 qualifier", "Butalbital-D5 qualifier", "Pentobartibal-D5 qualifier", "Secobarbital-D5 qualifier"], "range": ["#ffc000", "#8080ff", "#00ffff", "#00ff00"]},
              "legend": {"orient": "none", "legendX": 1062.5, "legendY": 90, "title": null, "padding": 0,
                "symbolType": "M1.2698,-0.9206L1.2698,0.9206L-1.2698,0.9206Z", "symbolSize": 3969, "symbolStrokeColor": "black", "symbolStrokeWidth": 3, "symbolOpacity": 1,
                "labelFont": "Liberation Sans", "labelFontSize": 30, "labelFontWeight": "bold", "labelColor": "black", "labelOpacity": 0, "labelLimit": 500, "labelOffset": 18.5,
                "labelExpr": "'-' + replace(datum.label, ' qualifier', '')", "rowPadding": -6,
                "encode": {"symbols": {"update": {"stroke": {"value": "black"}, "strokeWidth": {"value": 3}}}}}}
          }
        }
      ]
    }
  ]
}
